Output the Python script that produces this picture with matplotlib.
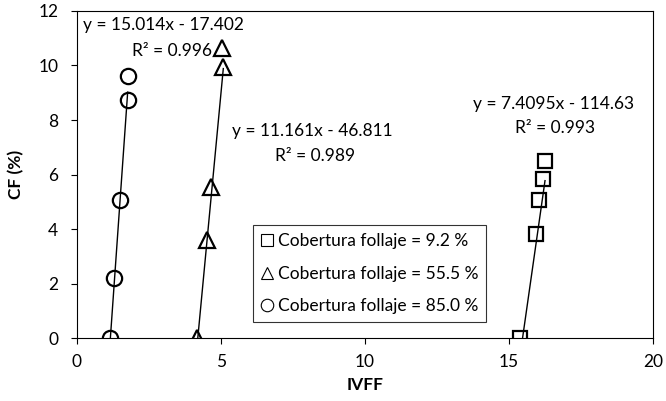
import matplotlib
matplotlib.use('Agg')
import matplotlib.pyplot as plt
from matplotlib.lines import Line2D
import numpy as np

plt.rcParams['font.family'] = ['Lato', 'DejaVu Sans']

# datos
ivff_92 = [15.38, 15.94, 16.03, 16.17, 16.25]
cf_92 = [0.0, 3.82, 5.05, 5.85, 6.48]
ivff_555 = [4.15, 4.50, 4.64, 5.08, 5.05]
cf_555 = [0.0, 3.58, 5.53, 9.96, 10.63]
ivff_850 = [1.15, 1.30, 1.49, 1.76, 1.76]
cf_850 = [0.0, 2.20, 5.05, 8.72, 9.60]

# tendencias (pendiente, intercepto, R2)
fit_92 = [7.4095, -114.63, 0.993]
fit_555 = [11.161, -46.811, 0.989]
fit_850 = [15.014, -17.402, 0.996]

labels = ['Cobertura follaje = 9.2 %', 'Cobertura follaje = 55.5 %', 'Cobertura follaje = 85.0 %']

fig = plt.figure(figsize=(6.66, 4.01), dpi=100)
ax = fig.add_axes([0.1156, 0.157, 0.8649, 0.8156])

series = [(ivff_92, cf_92, fit_92, 's', 10),
          (ivff_555, cf_555, fit_555, '^', 11),
          (ivff_850, cf_850, fit_850, 'o', 11)]
for xs, ys, fit, mk, ms in series:
    xx = np.array([min(xs), max(xs)])
    ax.plot(xx, fit[0] * xx + fit[1], color='black', lw=1)
    ax.plot(xs, ys, linestyle='none', marker=mk, markersize=ms,
            markerfacecolor='none', markeredgecolor='black', markeredgewidth=1.6)

fs = 12.5
# ecuaciones
ax.text(0.2, 11.5, 'y = %.3fx - %.3f' % (fit_850[0], -fit_850[1]), fontsize=fs, va='center', ha='left')
ax.text(4.7, 10.55, 'R² = %.3f' % fit_850[2], fontsize=fs, va='center', ha='right')
ax.text(5.38, 7.58, 'y = %.3fx - %.3f' % (fit_555[0], -fit_555[1]), fontsize=fs, va='center', ha='left')
ax.text(9.65, 6.67, 'R² = %.3f' % fit_555[2], fontsize=fs, va='center', ha='right')
ax.text(13.74, 8.57, 'y = %.4fx - %.2f' % (fit_92[0], -fit_92[1]), fontsize=fs, va='center', ha='left')
ax.text(18.0, 7.7, 'R² = %.3f' % fit_92[2], fontsize=fs, va='center', ha='right')

ax.set_xlim(0, 20)
ax.set_ylim(0, 12)
ax.set_xticks([0, 5, 10, 15, 20])
ax.set_yticks([0, 2, 4, 6, 8, 10, 12])
ax.tick_params(direction='out', length=4.5, labelsize=fs, width=0.8)
ax.tick_params(axis='x', pad=7)
ax.tick_params(axis='y', pad=9)
ax.set_xlabel('IVFF', fontsize=fs, fontweight='bold', labelpad=5)
ax.set_ylabel('CF (%)', fontsize=fs, fontweight='bold', labelpad=10)
for s in ax.spines.values():
    s.set_linewidth(0.8)

handles = [Line2D([], [], linestyle='none', marker=m, markersize=9,
                  markerfacecolor='none', markeredgecolor='black', markeredgewidth=0.8)
           for m in ['s', '^', 'o']]
leg = ax.legend(handles, labels, loc='lower left', bbox_to_anchor=(0.305, 0.049),
                fontsize=fs, frameon=True, fancybox=False, edgecolor='black',
                handlelength=0.7, handletextpad=0.3, labelspacing=0.95, borderpad=0.45,
                borderaxespad=0)
leg.get_frame().set_linewidth(0.8)

fig.savefig('out.png', dpi=100)
